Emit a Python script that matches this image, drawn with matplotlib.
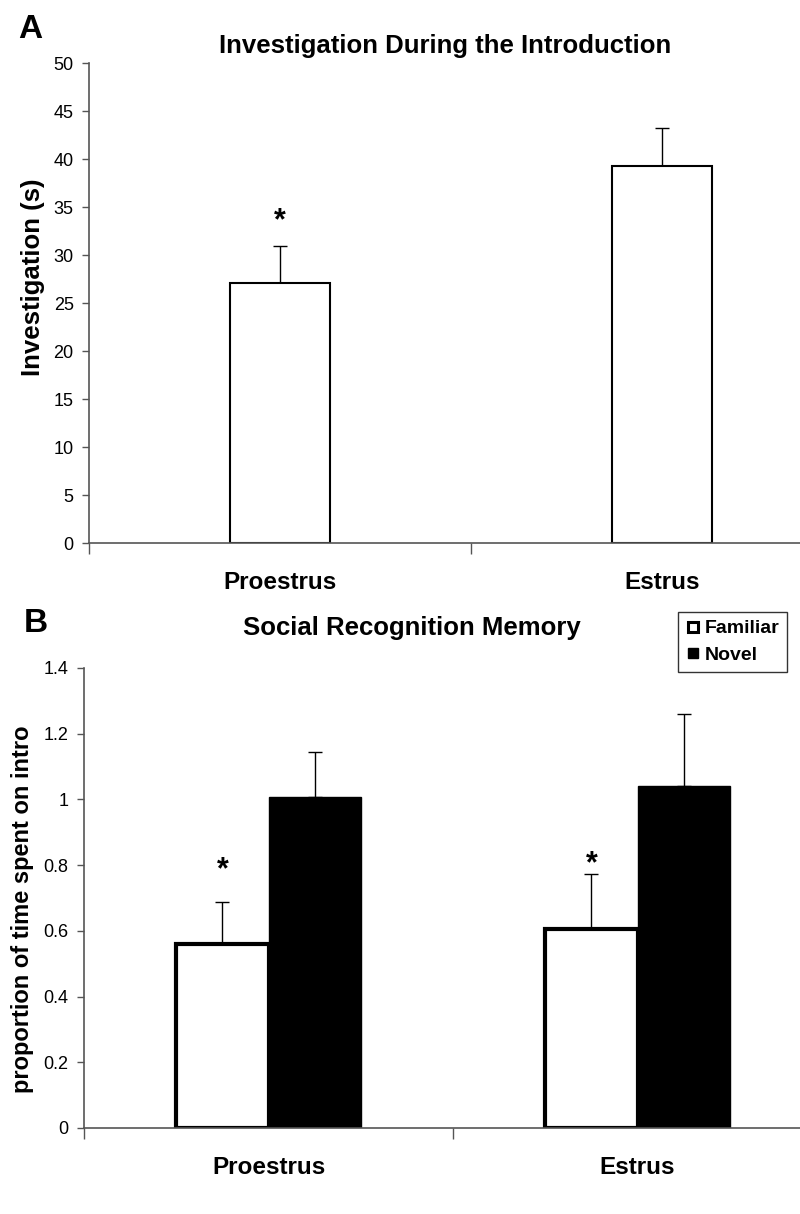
import matplotlib
matplotlib.use("Agg")
import matplotlib.pyplot as plt
import matplotlib.transforms as mtransforms
from matplotlib.lines import Line2D
import numpy as np

plt.rcParams['font.family'] = ['Liberation Sans', 'DejaVu Sans']

# Panel A data
cats = ["Proestrus", "Estrus"]
a_vals = [27.1, 39.3]
a_err = [3.8, 3.9]
a_star_y = [34.4, None]
a_yticks = [0, 5, 10, 15, 20, 25, 30, 35, 40, 45, 50]

# Panel B data
b_series = ["Familiar", "Novel"]
b_familiar = [0.56, 0.606]
b_familiar_err = [0.128, 0.168]
b_novel = [1.007, 1.041]
b_novel_err = [0.137, 0.218]
b_star_y = [0.81, 0.83]
b_yticks = [0, 0.2, 0.4, 0.6, 0.8, 1.0, 1.2, 1.4]
b_yticklabels = ["0", "0.2", "0.4", "0.6", "0.8", "1", "1.2", "1.4"]

W, H = 800, 1214
fig = plt.figure(figsize=(W / 100, H / 100), dpi=100)

def ax_rect(x0, x1, ytop, ybot):
    return [x0 / W, 1 - ybot / H, (x1 - x0) / W, (ybot - ytop) / H]

spine_c = '#555555'

def style(ax):
    for s in ['top', 'right']:
        ax.spines[s].set_visible(False)
    for s in ['left', 'bottom']:
        ax.spines[s].set_color(spine_c)
        ax.spines[s].set_linewidth(1.2)
    ax.tick_params(axis='y', direction='out', length=5, width=1, color=spine_c,
                   labelsize=13, pad=6)
    ax.tick_params(axis='x', which='major', length=0, pad=20, labelsize=17.5)
    ax.tick_params(axis='x', which='minor', length=8, width=1, color=spine_c)
    ax.set_xticks([-0.5, 0.5, 1.5], minor=True)
    ax.set_xticks(range(len(cats)))
    ax.set_xticklabels(cats, fontweight='bold')
    ax.set_xlim(-0.5, 1.5)

def star(ax, xv, yv):
    # place the asterisk glyph centred at (xv, yv)
    tr = mtransforms.offset_copy(ax.transData, fig=fig, y=-12, units='points')
    ax.text(xv, yv, '*', ha='center', va='baseline', fontsize=22, fontweight='bold',
            transform=tr)

# ---- Panel A ----
axA = fig.add_axes(ax_rect(89, 853, 63, 543))
x = np.arange(len(cats))
axA.bar(x, a_vals, width=0.262, color='white', edgecolor='black', linewidth=1.5, zorder=2)
axA.errorbar(x, a_vals, yerr=[np.zeros(len(a_err)), a_err], fmt='none', ecolor='black',
             elinewidth=1, capsize=5, capthick=1, zorder=1)
for i, s in enumerate(a_star_y):
    if s is not None:
        star(axA, x[i], s)
axA.set_ylim(0, 50)
axA.set_yticks(a_yticks)
style(axA)
axA.set_ylabel('Investigation (s)', fontsize=18.5, fontweight='bold', va='center')
axA.yaxis.set_label_coords((33 - 89) / 764, (543 - 277) / 480)
fig.text(445 / W, 1 - 46 / H, 'Investigation During the Introduction', ha='center', va='center',
         fontsize=18.5, fontweight='bold')
fig.text(30 / W, 1 - 30 / H, 'A', ha='center', va='center', fontsize=24, fontweight='bold')

# ---- Panel B ----
axB = fig.add_axes(ax_rect(84, 822, 668, 1128))
bw = 0.25
axB.bar(x - bw / 2, b_familiar, width=bw, color='white', edgecolor='black', linewidth=3, zorder=2)
axB.bar(x + bw / 2, b_novel, width=bw, color='black', edgecolor='black', linewidth=1, zorder=2)
axB.errorbar(x - bw / 2, b_familiar, yerr=[np.zeros(2), b_familiar_err], fmt='none', ecolor='black',
             elinewidth=1, capsize=5, capthick=1, zorder=1)
axB.errorbar(x + bw / 2, b_novel, yerr=[np.zeros(2), b_novel_err], fmt='none', ecolor='black',
             elinewidth=1, capsize=5, capthick=1, zorder=1)
for i, s in enumerate(b_star_y):
    if s is not None:
        star(axB, x[i] - bw / 2, s)
axB.set_ylim(0, 1.4)
axB.set_yticks(b_yticks)
axB.set_yticklabels(b_yticklabels)
style(axB)
axB.set_ylabel('proportion of time spent on intro', fontsize=17, fontweight='bold', va='center')
axB.yaxis.set_label_coords((23 - 84) / 738, (1128 - 909) / 460)
fig.text(412 / W, 1 - 628 / H, 'Social Recognition Memory', ha='center', va='center',
         fontsize=18.5, fontweight='bold')
fig.text(36 / W, 1 - 624 / H, 'B', ha='center', va='center', fontsize=24, fontweight='bold')

handles = [Line2D([], [], marker='s', linestyle='none', markersize=7.5, markerfacecolor='white',
                  markeredgecolor='black', markeredgewidth=2.2),
           Line2D([], [], marker='s', linestyle='none', markersize=7.5, markerfacecolor='black',
                  markeredgecolor='black')]
leg = fig.legend(handles, b_series, loc='upper left', bbox_to_anchor=(678 / W, 1 - 612 / H),
                 frameon=True, fancybox=False, edgecolor='black', handlelength=0.7,
                 handletextpad=0.25, borderpad=0.4, labelspacing=0.45,
                 prop={'weight': 'bold', 'size': 14}, borderaxespad=0)
leg.get_frame().set_linewidth(1)

fig.savefig('out.png', dpi=100)
